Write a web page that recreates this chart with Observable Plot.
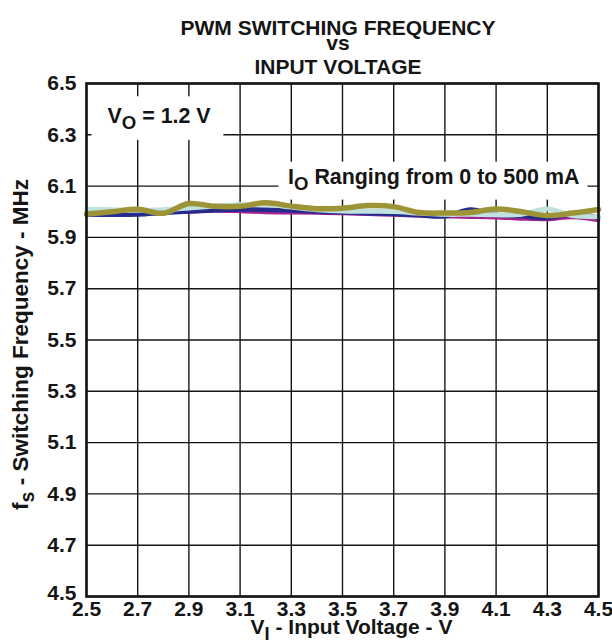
<!DOCTYPE html>
<html>
<head>
<meta charset="utf-8">
<script src="https://cdn.jsdelivr.net/npm/d3@7"></script>
<script src="https://cdn.jsdelivr.net/npm/@observablehq/plot@0.6"></script>
<style>
  html, body { margin: 0; padding: 0; background: #fff; }
  #chart { width: 612px; height: 644px; }
</style>
</head>
<body>
<div id="chart"></div>
<script>
// ---- Data ----
const voltages = [2.5, 2.6, 2.7, 2.8, 2.9, 3.0, 3.1, 3.2, 3.3, 3.4, 3.5, 3.6, 3.7, 3.8, 3.9, 4.0, 4.1, 4.2, 4.3, 4.4, 4.5];
const freqMagenta = [5.995, 5.999, 6.003, 6.000, 5.999, 6.003, 6.001, 5.997, 5.996, 5.995, 5.993, 5.990, 5.987, 5.984, 5.981, 5.979, 5.977, 5.972, 5.970, 5.978, 5.966];
const freqBlue    = [5.989, 5.988, 5.989, 5.995, 6.001, 6.006, 6.009, 6.008, 6.005, 6.001, 5.998, 5.994, 5.991, 5.986, 5.982, 6.009, 5.988, 5.983, 5.976, 5.990, 5.978];
const freqCyan    = [6.010, 6.008, 6.006, 6.008, 6.015, 6.022, 6.028, 6.029, 6.018, 6.008, 6.003, 6.002, 6.001, 5.995, 5.990, 5.990, 5.988, 5.990, 6.011, 5.985, 5.981];
const freqOlive   = [5.991, 6.000, 6.010, 5.994, 6.032, 6.021, 6.021, 6.035, 6.022, 6.012, 6.014, 6.024, 6.020, 5.997, 5.995, 5.997, 6.011, 6.000, 5.985, 5.995, 6.009];

const xTicks = [2.5, 2.7, 2.9, 3.1, 3.3, 3.5, 3.7, 3.9, 4.1, 4.3, 4.5];
const yTicks = [4.5, 4.7, 4.9, 5.1, 5.3, 5.5, 5.7, 5.9, 6.1, 6.3, 6.5];

const titleLines = ["PWM SWITCHING FREQUENCY", "vs", "INPUT VOLTAGE"];
const xLabel = "V_I - Input Voltage - V";
const yLabel = "f_s - Switching Frequency - MHz";
const noteVo = "V_O = 1.2 V";
const noteIo = "I_O Ranging from 0 to 500 mA";

// ---- Styles ----
const series = [
  { values: freqMagenta, color: "#a3238f", width: 3.5 },
  { values: freqBlue,    color: "#262c8e", width: 4.5 },
  { values: freqCyan,    color: "#bfe2df", width: 5 },
  { values: freqOlive,   color: "#9d9437", width: 5.5 }
];
const rowsOf = s => voltages.map((v, i) => ({ v, f: s.values[i] }));
const font = "'Liberation Sans', Arial, Helvetica, sans-serif";
const ink = "#151515";
const yFmt = d => d.toFixed(1);

const plot = Plot.plot({
  width: 612,
  height: 644,
  marginTop: 83,
  marginBottom: 48,
  marginLeft: 86,
  marginRight: 14,
  style: { fontFamily: font, fontWeight: "bold", fontSize: "21px", color: ink, background: "#fff" },
  x: { domain: [2.5, 4.5], label: null },
  y: { domain: [4.5, 6.5], label: null },
  marks: [
    Plot.ruleX(xTicks, { x: d => d, stroke: ink, strokeWidth: 1.4 }),
    Plot.ruleY(yTicks, { y: d => d, stroke: ink, strokeWidth: 1.4 }),
    ...series.map(s => Plot.line(rowsOf(s), {
      x: "v", y: "f", stroke: s.color, strokeWidth: s.width, curve: "catmull-rom"
    })),
    Plot.axisX(xTicks, { tickSize: 0, tickPadding: 5, tickFormat: yFmt, label: null, fontSize: 21, fill: ink }),
    Plot.axisY(yTicks.slice(1), { tickSize: 0, tickPadding: 10, tickFormat: yFmt, label: null, fontSize: 21, fill: ink }),
    Plot.axisY(yTicks.slice(0, 1), { tickSize: 0, tickPadding: 10, tickFormat: yFmt, label: null, fontSize: 21, fill: ink, dy: -3 }),
    // title
    Plot.text([titleLines[0]], { text: d => d, frameAnchor: "top", textAnchor: "middle", dx: -4.5, dy: -63, fontSize: 21, fill: ink }),
    Plot.text([titleLines[1]], { text: d => d, frameAnchor: "top", textAnchor: "middle", dx: -4.5, dy: -48, fontSize: 21, fill: ink }),
    Plot.text([titleLines[2]], { text: d => d, frameAnchor: "top", textAnchor: "middle", dx: -4.5, dy: -24.7, fontSize: 21, fill: ink }),
    // axis titles
    Plot.text([xLabel], { text: d => d, frameAnchor: "bottom", textAnchor: "middle", dx: 9, dy: 37, fontSize: 21, fill: ink }),
    Plot.text([yLabel], { text: d => d, frameAnchor: "left", textAnchor: "middle", rotate: -90, dx: -66, dy: 4.5, fontSize: 22.5, fill: ink }),
    // annotations
    Plot.text([noteVo], { text: d => d, frameAnchor: "top-left", textAnchor: "start", dx: 21, dy: 23.9, fontSize: 21.4, fill: ink }),
    Plot.text([noteIo], { text: d => d, frameAnchor: "top-left", textAnchor: "start", dx: 201.5, dy: 85.2, fontSize: 21.4, fill: ink }),
    Plot.frame({ stroke: ink, strokeWidth: 2.6 })
  ]
});

document.getElementById("chart").appendChild(plot);

// ---- subscripts: "X_Y" -> X with Y as subscript ----
plot.querySelectorAll("text").forEach(t => {
  const s = t.textContent;
  if (!s.includes("_")) return;
  const size = parseFloat(t.getAttribute("font-size") || getComputedStyle(t).fontSize) || 21;
  const shift = size * 0.29;
  const parts = s.split(/_(.)/);
  while (t.firstChild) t.removeChild(t.firstChild);
  let prevSub = false;
  parts.forEach((p, i) => {
    if (!p.length) return;
    const ts = document.createElementNS("http://www.w3.org/2000/svg", "tspan");
    ts.textContent = p;
    if (i % 2 === 1) {
      ts.setAttribute("dy", shift);
      ts.setAttribute("font-size", (size * 0.87) + "px");
      prevSub = true;
    } else {
      if (prevSub) ts.setAttribute("dy", -shift);
      prevSub = false;
    }
    t.appendChild(ts);
  });
});

// ---- white boxes behind the annotations ----
const boxPad = {
  [noteVo.replace("_", "")]: { l: 16, r: 12, t: 7.3, b: 7 },
  [noteIo.replace("_", "")]: { l: 9.5, r: 8, t: 3.2, b: 5.5 }
};
plot.querySelectorAll("text").forEach(t => {
  const pad = boxPad[t.textContent];
  if (!pad) return;
  const bb = t.getBBox();
  const r = document.createElementNS("http://www.w3.org/2000/svg", "rect");
  r.setAttribute("x", bb.x - pad.l);
  r.setAttribute("y", bb.y - pad.t);
  r.setAttribute("width", bb.width + pad.l + pad.r);
  r.setAttribute("height", bb.height + pad.t + pad.b);
  r.setAttribute("fill", "#fff");
  r.setAttribute("stroke", "none");
  const tr = t.getAttribute("transform");
  if (tr) r.setAttribute("transform", tr);
  t.parentNode.insertBefore(r, t);
});
</script>
</body>
</html>
